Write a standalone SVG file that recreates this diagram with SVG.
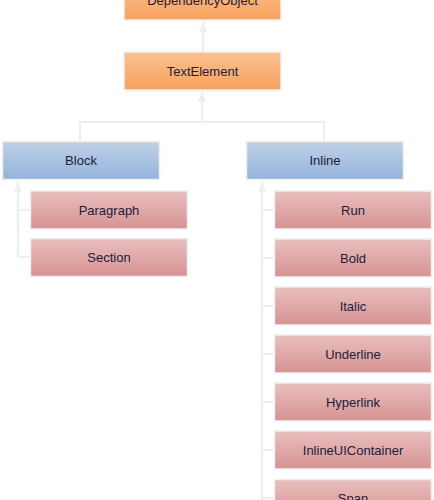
<svg xmlns="http://www.w3.org/2000/svg" width="434" height="500" viewBox="0 0 434 500">
<defs>
<linearGradient id="gOrange" x1="0" y1="0" x2="0" y2="1"><stop offset="0" stop-color="#fbc191"/><stop offset="1" stop-color="#f8a15d"/></linearGradient>
<linearGradient id="gBlue" x1="0" y1="0" x2="0" y2="1"><stop offset="0" stop-color="#bfd1e8"/><stop offset="1" stop-color="#93b3da"/></linearGradient>
<linearGradient id="gRed" x1="0" y1="0" x2="0" y2="1"><stop offset="0" stop-color="#e9bfbf"/><stop offset="1" stop-color="#d89292"/></linearGradient>
<marker id="arr" markerUnits="userSpaceOnUse" markerWidth="10" markerHeight="12" refX="10" refY="4" orient="auto" viewBox="0 0 10 8">
<path d="M0,0 L10,4 L0,8 Z" fill="#eeeeee"/>
</marker>
</defs>
<style>
.box{stroke:#f0f0f0;stroke-width:1.5}
.o{fill:url(#gOrange)}
.b{fill:url(#gBlue)}
.r{fill:url(#gRed)}
text{font-family:"Liberation Sans",Arial,sans-serif;font-size:13px;fill:#1c1c3a;text-anchor:middle}
.c{fill:none;stroke:#eeeeee;stroke-width:2}
</style>
<rect width="434" height="500" fill="#ffffff"/>
<g id="connectors">
<path class="c" d="M203,52 L203,22" marker-end="url(#arr)"/>
<path class="c" d="M80,141 L80,122 L324,122 L324,141"/>
<path class="c" d="M202,122 L202,92" marker-end="url(#arr)"/>
<path class="c" d="M18,257 L18,182" marker-end="url(#arr)"/>
<path class="c" d="M18,210 L30,210 M18,257 L30,257"/>
<path class="c" d="M262,500 L262,182" marker-end="url(#arr)"/>
<path class="c" d="M262,210 L274,210 M262,258 L274,258 M262,306 L274,306 M262,354 L274,354 M262,402 L274,402 M262,450 L274,450 M262,498 L274,498"/>
</g>
<g id="DependencyObject"><rect class="box o" x="124" y="-18" width="157" height="38"/><text x="202.5" y="5">DependencyObject</text></g>
<g id="TextElement"><rect class="box o" x="124" y="52" width="157" height="38"/><text x="202.5" y="75.5">TextElement</text></g>
<g id="Block"><rect class="box b" x="2.5" y="141.5" width="157" height="38"/><text x="81" y="165">Block</text></g>
<g id="Inline"><rect class="box b" x="246.5" y="141.5" width="157" height="38"/><text x="325" y="165">Inline</text></g>
<g id="Paragraph"><rect class="box r" x="30.5" y="191" width="157" height="38"/><text x="109" y="214.5">Paragraph</text></g>
<g id="Section"><rect class="box r" x="30.5" y="238.5" width="157" height="38"/><text x="109" y="262">Section</text></g>
<g id="Run"><rect class="box r" x="274.5" y="191" width="157" height="38"/><text x="353" y="214.5">Run</text></g>
<g id="Bold"><rect class="box r" x="274.5" y="239" width="157" height="38"/><text x="353" y="262.5">Bold</text></g>
<g id="Italic"><rect class="box r" x="274.5" y="287" width="157" height="38"/><text x="353" y="310.5">Italic</text></g>
<g id="Underline"><rect class="box r" x="274.5" y="335" width="157" height="38"/><text x="353" y="358.5">Underline</text></g>
<g id="Hyperlink"><rect class="box r" x="274.5" y="383" width="157" height="38"/><text x="353" y="406.5">Hyperlink</text></g>
<g id="InlineUIContainer"><rect class="box r" x="274.5" y="431" width="157" height="38"/><text x="353" y="454.5">InlineUIContainer</text></g>
<g id="Span"><rect class="box r" x="274.5" y="479.5" width="157" height="38"/><text x="353" y="503">Span</text></g>
</svg>
